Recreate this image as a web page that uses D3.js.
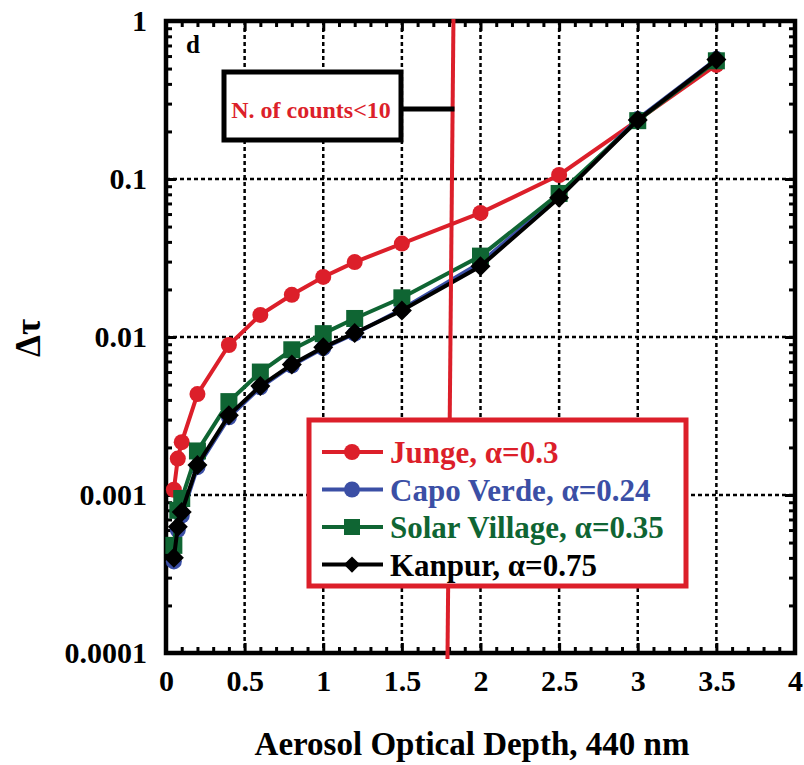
<!DOCTYPE html>
<html>
<head>
<meta charset="utf-8">
<script src="https://cdn.jsdelivr.net/npm/d3@7"></script>
<style>
  body { margin: 0; background: #fff; }
  svg text { font-family: "Liberation Serif", "Times New Roman", serif; font-weight: bold; }
</style>
</head>
<body>
<svg id="chart"></svg>
<script>
(function() {

    // AOD bins (x)
    const aod = [0.05, 0.075, 0.1, 0.2, 0.4, 0.6, 0.8, 1.0, 1.2, 1.5, 2.0, 2.5, 3.0, 3.5];

    // delta tau per model
    const junge = [0.00108, 0.0017, 0.00216, 0.00435, 0.0089, 0.0138, 0.0185, 0.024, 0.0298, 0.039, 0.061, 0.106, 0.236, 0.527];
    const capoVerde = [0.00038, 0.0006, 0.00074, 0.0015, 0.0031, 0.0048, 0.0066, 0.0085, 0.0105, 0.015, 0.0295, 0.078, 0.24, 0.575];
    const solarVillage = [0.00048, 0.0008, 0.00095, 0.0019, 0.0039, 0.006, 0.0083, 0.0105, 0.0131, 0.0177, 0.0325, 0.081, 0.234, 0.56];
    const kanpur = [0.0004, 0.00063, 0.00078, 0.00155, 0.0032, 0.0049, 0.0067, 0.0086, 0.0106, 0.0147, 0.028, 0.076, 0.236, 0.57];

    const seriesNames = ['Junge, \u03b1=0.3', 'Capo Verde, \u03b1=0.24', 'Solar Village, \u03b1=0.35', 'Kanpur, \u03b1=0.75'];
    const seriesColors = ['#dc1f2a', '#3b4fa5', '#0f6533', '#000000'];
    const seriesMarkers = ['circle', 'circle', 'square', 'diamond'];

    const xTicks = [0, 0.5, 1, 1.5, 2, 2.5, 3, 3.5, 4];
    const yTicks = [0.0001, 0.001, 0.01, 0.1, 1];
    const yTickLabels = ['0.0001', '0.001', '0.01', '0.1', '1'];

    const cutoffAod = [1.828, 1.79]; // N. of counts < 10 line (top, bottom)

    const w = 804;
    const h = 765;
    const left = 166, right = 795, top = 21, bottom = 653;

    const svg = d3.select('#chart')
        .attr('width', w)
        .attr('height', h);

    // Scales
    const scaleX = d3.scaleLinear().domain([0, 4]).range([left, right]);
    const scaleY = d3.scaleLog().domain([0.0001, 1]).range([bottom, top]);

    // Grid
    const grid = svg.append('g').attr('class', 'grid');
    grid.selectAll('line.gx')
        .data(xTicks.filter(d => d > 0 && d < 4))
        .join('line')
        .attr('x1', d => scaleX(d)).attr('x2', d => scaleX(d))
        .attr('y1', top).attr('y2', bottom)
        .attr('stroke', '#000').attr('stroke-width', 2.5)
        .attr('stroke-dasharray', '4,3');
    grid.selectAll('line.gy')
        .data(yTicks.filter(d => d > 0.0001 && d < 1))
        .join('line')
        .attr('x1', left).attr('x2', right)
        .attr('y1', d => scaleY(d)).attr('y2', d => scaleY(d))
        .attr('stroke', '#000').attr('stroke-width', 2.5)
        .attr('stroke-dasharray', '4,3');

    // Minor ticks
    const xMinor = d3.range(0, 4.001, 0.1).filter(d => Math.abs(d * 2 - Math.round(d * 2)) > 0.01);
    const yMinor = [];
    [0.0001, 0.001, 0.01, 0.1].forEach(dec => {
        for (let k = 2; k <= 9; k++) yMinor.push(dec * k);
    });

    const styleAxis = g => {
        g.select('.domain').remove();
        g.selectAll('.tick line').attr('stroke', '#000').attr('stroke-width', 3);
    };

    // Bottom
    svg.append('g')
        .attr('transform', `translate(0, ${bottom})`)
        .call(d3.axisBottom(scaleX).tickValues(xTicks).tickSize(-10).tickPadding(17).tickFormat(d3.format('')))
        .call(styleAxis)
        .call(g => g.selectAll('text').attr('font-size', 30).attr('fill', '#000').attr('font-family', null));
    svg.append('g')
        .attr('transform', `translate(0, ${bottom})`)
        .call(d3.axisBottom(scaleX).tickValues(xMinor).tickSize(-6).tickFormat(''))
        .call(styleAxis);

    // Top
    svg.append('g')
        .attr('transform', `translate(0, ${top})`)
        .call(d3.axisTop(scaleX).tickValues(xTicks).tickSize(-10).tickFormat(''))
        .call(styleAxis);
    svg.append('g')
        .attr('transform', `translate(0, ${top})`)
        .call(d3.axisTop(scaleX).tickValues(xMinor).tickSize(-6).tickFormat(''))
        .call(styleAxis);

    // Left
    svg.append('g')
        .attr('transform', `translate(${left}, 0)`)
        .call(d3.axisLeft(scaleY).tickValues(yTicks).tickSize(-10).tickPadding(19)
            .tickFormat((d, i) => yTickLabels[i]))
        .call(styleAxis)
        .call(g => g.selectAll('text').attr('font-size', 30).attr('fill', '#000').attr('font-family', null));
    svg.append('g')
        .attr('transform', `translate(${left}, 0)`)
        .call(d3.axisLeft(scaleY).tickValues(yMinor).tickSize(-6).tickFormat(''))
        .call(styleAxis);

    // Right
    svg.append('g')
        .attr('transform', `translate(${right}, 0)`)
        .call(d3.axisRight(scaleY).tickValues(yTicks).tickSize(-10).tickFormat(''))
        .call(styleAxis);
    svg.append('g')
        .attr('transform', `translate(${right}, 0)`)
        .call(d3.axisRight(scaleY).tickValues(yMinor).tickSize(-6).tickFormat(''))
        .call(styleAxis);

    // Frame
    svg.append('rect')
        .attr('x', left).attr('y', top)
        .attr('width', right - left).attr('height', bottom - top)
        .attr('fill', 'none').attr('stroke', '#000').attr('stroke-width', 4.5);

    // Series
    const allSeries = [junge, capoVerde, solarVillage, kanpur];
    const line = d3.line().x(d => scaleX(d[0])).y(d => scaleY(d[1]));

    const drawMarker = (sel, type, color, size) => {
        if (type === 'circle') {
            sel.append('circle').attr('r', size).attr('fill', color);
        } else if (type === 'square') {
            sel.append('rect').attr('x', -size).attr('y', -size)
                .attr('width', size * 2).attr('height', size * 2).attr('fill', color);
        } else {
            sel.append('path')
                .attr('d', `M0,${-size * 1.25}L${size * 1.25},0L0,${size * 1.25}L${-size * 1.25},0Z`)
                .attr('fill', color);
        }
    };

    allSeries.forEach((vals, i) => {
        const pts = aod.map((x, j) => [x, vals[j]]);
        const g = svg.append('g');
        g.append('path')
            .datum(pts)
            .attr('d', line)
            .attr('fill', 'none')
            .attr('stroke', seriesColors[i])
            .attr('stroke-width', 4);
        g.selectAll('g.pt')
            .data(pts)
            .join('g')
            .attr('transform', d => `translate(${scaleX(d[0])}, ${scaleY(d[1])})`)
            .each(function() { drawMarker(d3.select(this), seriesMarkers[i], seriesColors[i], i === 2 ? 8.5 : 8); });
    });

    // Cutoff line
    svg.append('line')
        .attr('x1', scaleX(cutoffAod[0])).attr('y1', top - 2)
        .attr('x2', scaleX(cutoffAod[1])).attr('y2', bottom + 6)
        .attr('stroke', '#dc1f2a').attr('stroke-width', 4);

    // Annotation box
    svg.append('line')
        .attr('x1', 402).attr('x2', scaleX(cutoffAod[0]) + 1)
        .attr('y1', 109).attr('y2', 109)
        .attr('stroke', '#000').attr('stroke-width', 5);
    svg.append('rect')
        .attr('x', 224).attr('y', 72).attr('width', 177).attr('height', 68)
        .attr('fill', '#fff').attr('stroke', '#000').attr('stroke-width', 5);
    svg.append('text')
        .attr('x', 311).attr('y', 118)
        .attr('text-anchor', 'middle')
        .attr('font-size', 24)
        .attr('fill', '#dc1f2a')
        .text('N. of counts<10');

    // Panel letter
    svg.append('text')
        .attr('x', 186).attr('y', 53)
        .attr('font-size', 25)
        .text('d');

    // Legend
    const legend = svg.append('g');
    legend.append('rect')
        .attr('x', 309).attr('y', 420).attr('width', 377).attr('height', 166)
        .attr('fill', '#fff').attr('stroke', '#dc1f2a').attr('stroke-width', 5);
    seriesNames.forEach((name, i) => {
        const yy = 452 + i * 37.5;
        const row = legend.append('g');
        row.append('line')
            .attr('x1', 322).attr('x2', 383).attr('y1', yy).attr('y2', yy)
            .attr('stroke', seriesColors[i]).attr('stroke-width', 4);
        const m = row.append('g').attr('transform', `translate(352, ${yy})`);
        drawMarker(m, seriesMarkers[i], seriesColors[i], i === 3 ? 6.5 : 8);
        row.append('text')
            .attr('x', 390).attr('y', yy + 11)
            .attr('font-size', 31)
            .attr('fill', seriesColors[i])
            .text(name);
    });

    // Axis titles
    svg.append('text')
        .attr('x', 472).attr('y', 755)
        .attr('text-anchor', 'middle')
        .attr('font-size', 33)
        .text('Aerosol Optical Depth, 440 nm');

    svg.append('text')
        .attr('transform', 'translate(40, 338) rotate(-90)')
        .attr('text-anchor', 'middle')
        .attr('font-size', 35)
        .text('\u0394\u03c4');

})();
</script>
</body>
</html>
